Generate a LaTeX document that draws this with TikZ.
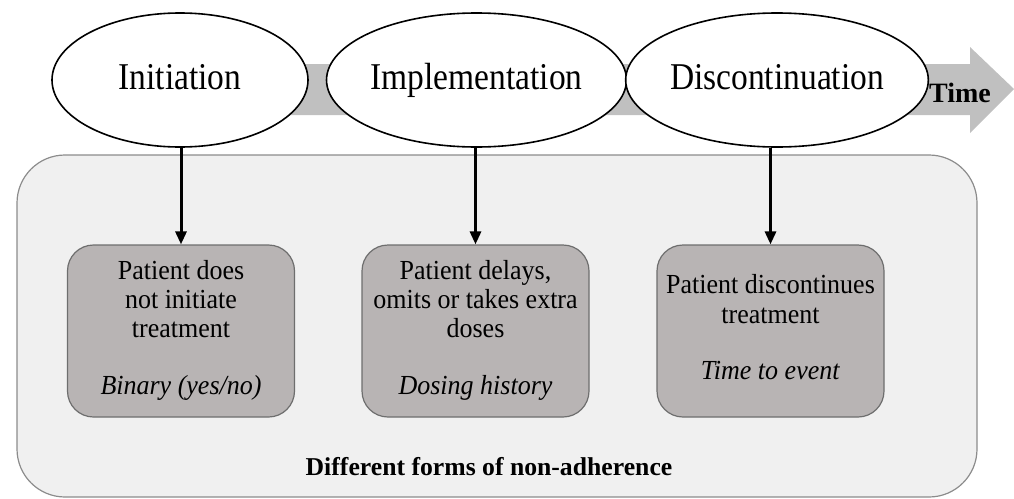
\documentclass[tikz,border=0pt]{standalone}
\usepackage{fontspec}
\setmainfont{Liberation Serif}
\usetikzlibrary{shapes.geometric,arrows.meta}
\definecolor{bgfill}{RGB}{240,240,240}
\definecolor{bgdraw}{RGB}{140,140,140}
\definecolor{boxfill}{RGB}{184,180,180}
\definecolor{boxdraw}{RGB}{110,110,110}
\definecolor{timegray}{RGB}{192,192,192}
\newcommand{\tallA}[1]{\scalebox{1}[1.13]{#1}}
\newcommand{\tallB}[1]{\raisebox{-3pt}{\scalebox{1}[1.06]{\begin{tabular}{@{}c@{}}#1\end{tabular}}}}
\tikzset{
  phase/.style={ellipse, draw=black, line width=1.6pt, fill=white, minimum height=134pt, inner sep=0pt, text height=27pt, text depth=8pt, font=\fontsize{33.5}{36}\selectfont},
  formbox/.style={rectangle, rounded corners=26pt, draw=boxdraw, line width=1.2pt, fill=boxfill, minimum width=227pt, minimum height=172pt, inner sep=0pt, align=center, font=\fontsize{26}{27.5}\selectfont},
  link/.style={line width=3pt, -{Triangle[length=13pt,width=11pt]}}
}
\begin{document}
\begin{tikzpicture}[x=1pt,y=-1pt]
\useasboundingbox (0,0) rectangle (1014,498);
% time arrow
\fill[timegray] (250,64) -- (970,64) -- (970,47) -- (1014,89) -- (970,133) -- (970,115) -- (250,115) -- cycle;
\node[font=\bfseries\fontsize{28}{30}\selectfont, anchor=base] (time) at (960,102) {Time};
% background panel
\node[draw=bgdraw, line width=1.2pt, fill=bgfill, rounded corners=48pt, minimum width=960pt, minimum height=342pt, inner sep=0pt] (panel) at (497,326) {};
% phases
\node[phase, minimum width=256pt] (e1) at (180,80) {\tallA{Initiation}};
\node[phase, minimum width=259pt] (e2) at (476.5,80) {\tallA{Implementation}};
\node[phase, minimum width=269pt] (e3) at (777,80) {\tallA{Discontinuation}};
% boxes
\node[formbox] (b1) at (181,331) {\tallB{Patient does\\not initiate\\treatment\\[26pt]\textit{Binary (yes/no)}}};
\node[formbox] (b2) at (475.5,331) {\tallB{Patient delays,\\omits or takes extra\\doses\\[26pt]\textit{Dosing history}}};
\node[formbox] (b3) at (770.5,331) {\tallB{Patient discontinues\\treatment\\[26pt]\textit{Time to event}}};
% links
\draw[link] (e1.south -| b1.north) -- (b1.north);
\draw[link] (e2.south -| b2.north) -- (b2.north);
\draw[link] (e3.south -| b3.north) -- (b3.north);
% caption
\node[font=\bfseries\fontsize{25.7}{28}\selectfont, anchor=base] (cap) at (489,475) {Different forms of non-adherence};
\end{tikzpicture}
\end{document}
